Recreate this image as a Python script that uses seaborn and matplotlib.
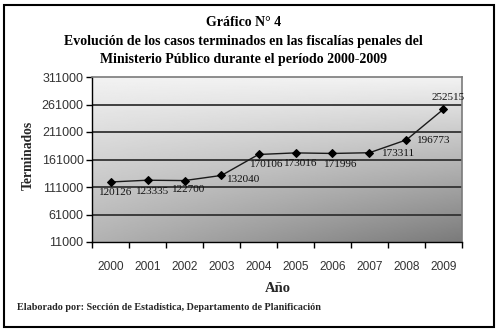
import numpy as np
import pandas as pd
import matplotlib
matplotlib.use("Agg")
import matplotlib.pyplot as plt
from matplotlib.patches import Rectangle
import seaborn as sns

years = ["2000", "2001", "2002", "2003", "2004", "2005", "2006", "2007", "2008", "2009"]
terminados = [120126, 123335, 122700, 132040, 170106, 173016, 171996, 173311, 196773, 252515]
yticks = [11000, 61000, 111000, 161000, 211000, 261000, 311000]

title_lines = ["Gráfico N° 4",
               "Evolución de los casos terminados en las fiscalías penales del",
               "Ministerio Público durante el período 2000-2009"]
ylabel = "Terminados"
xlabel = "Año"
footer = "Elaborado por: Sección de Estadística, Departamento de Planificación"

df = pd.DataFrame({"Año": years, "Terminados": terminados})

sns.set_theme(style="white")
plt.rcParams["font.family"] = ["Liberation Serif", "DejaVu Serif"]

fig = plt.figure(figsize=(5.0, 3.34), dpi=100)
fig.patch.set_facecolor("white")
ax = fig.add_axes([92/500, 1-242/334, (462-92)/500, (242-77)/334])

# gradient background
ny, nx = 200, 200
yy, xx = np.mgrid[0:1:ny*1j, 0:1:nx*1j]  # yy: 0 top -> 1 bottom
grad = 0.95 - yy * (0.25 + 0.22 * xx)
ax.imshow(grad, cmap="gray", vmin=0, vmax=1, aspect="auto",
          extent=[-0.5, 9.5, 11000, 311000], origin="upper", zorder=0)

for v in yticks[1:-1]:
    ax.axhline(v, color="#333333", lw=1.3, zorder=1)

sns.lineplot(data=df, x="Año", y="Terminados", ax=ax, color="#1a1a1a", lw=1.0,
             marker="D", markersize=4, markeredgecolor="black",
             markerfacecolor="black", zorder=3, sort=False)

ax.set_xlim(-0.5, 9.5)
ax.set_ylim(11000, 311000)
ax.set_yticks(yticks)
ax.set_yticklabels([str(v) for v in yticks], family="Liberation Sans",
                   fontsize=9, color="#333333")
ax.set_xticks(range(len(years)))
ax.set_xticklabels(years, family="Liberation Sans", fontsize=8.6, color="#333333")
ax.set_xticks(np.arange(-0.5, 10, 1), minor=True)
ax.tick_params(axis="x", which="major", length=0, pad=14)
ax.tick_params(axis="x", which="minor", length=4, width=1, color="black",
               direction="out", bottom=True)
ax.tick_params(axis="y", length=4, width=1, color="black", direction="out",
               left=True, pad=2)
ax.set_xlabel("")
ax.set_ylabel("")

for s in ["left", "bottom"]:
    ax.spines[s].set_color("black")
    ax.spines[s].set_linewidth(1.0)
for s in ["top", "right"]:
    ax.spines[s].set_color("#7a7a7a")
    ax.spines[s].set_linewidth(1.2)

# data labels (offsets in pixels)
offsets = [(5, -11, "center"), (5, -11, "center"), (4, -9, "center"),
           (5, -4, "left"), (8, -10, "center"), (5, -11, "center"),
           (8, -11, "center"), (12, -1, "left"), (10, -1, "left"),
           (5, 12, "center")]
for i, (v, (dx, dy, ha)) in enumerate(zip(terminados, offsets)):
    ax.annotate(str(v), (i, v), xytext=(dx, dy), textcoords="offset pixels",
                ha=ha, va="center", fontsize=8, color="#111111", zorder=4)

# titles
ty = [23, 42, 60]
for line, y in zip(title_lines, ty):
    fig.text(0.487, 1 - y/334, line, ha="center", va="center",
             fontsize=10, fontweight="bold", color="black")

fig.text(28/500, 1 - 155/334, ylabel, rotation=90, ha="center", va="center",
         fontsize=9.8, fontweight="bold")
fig.text(278/500, 1 - 288/334, xlabel, ha="center", va="center",
         fontsize=10.5, fontweight="bold")
fig.text(17/500, 1 - 308/334, footer, ha="left", va="center",
         fontsize=7.3, fontweight="bold")

# outer frame
fig.patches.append(Rectangle((4/500, 1 - 327/334), 490/500, 322/334,
                             transform=fig.transFigure, fill=False,
                             edgecolor="black", lw=1.5))

fig.savefig("out.png", dpi=100, facecolor="white")
